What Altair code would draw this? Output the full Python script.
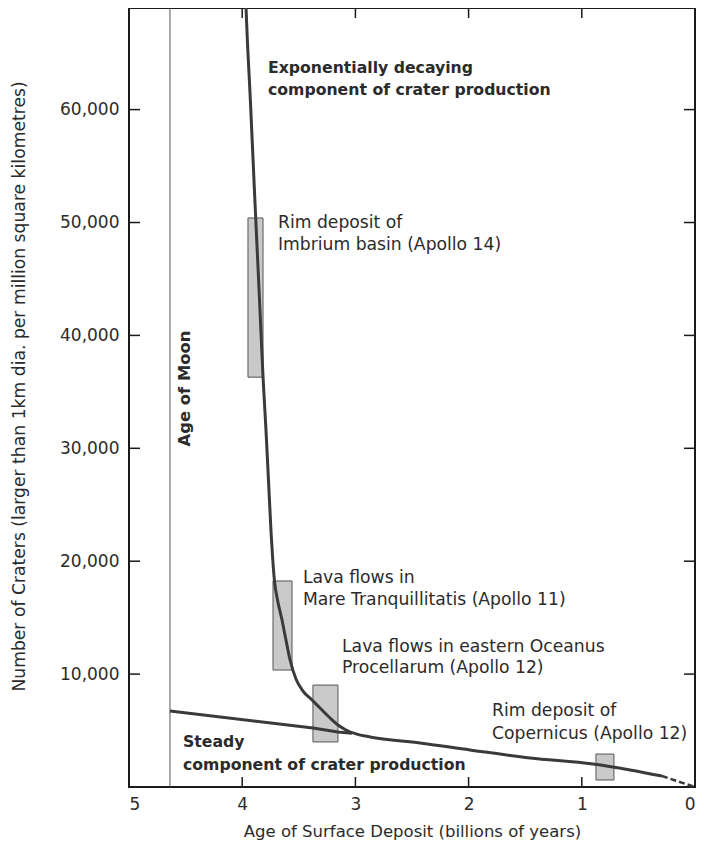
import altair as alt
import pandas as pd

# ---- data ----
decay_age = [3.969, 3.966, 3.928, 3.888, 3.847, 3.816, 3.790, 3.768, 3.746, 3.715, 3.688,
             3.648, 3.622, 3.577, 3.525, 3.463, 3.383, 3.313, 3.233, 3.154, 3.083, 2.995,
             2.871, 2.429, 1.988, 1.458, 0.901, 0.574, 0.292]
decay_val = [70000, 69090, 60850, 51990, 43140, 36320, 31620, 27190, 22760, 18250, 16560,
             14790, 13460, 11250, 9570, 8500, 7710, 7000, 6200, 5490, 5050, 4700,
             4430, 3900, 3280, 2570, 2040, 1510, 970]

steady_age = [4.638, 3.375, 3.154, 3.030]
steady_val = [6730, 5230, 4870, 4760]

dash_age = [0.292, 0.0]
dash_val = [970, 0]

box_name = ["Imbrium", "Tranquillitatis", "Procellarum", "Copernicus"]
box_age_old = [3.949, 3.728, 3.375, 0.875]
box_age_young = [3.816, 3.560, 3.154, 0.716]
box_low = [36300, 10360, 3990, 620]
box_high = [50400, 18250, 9030, 2920]

moon_age = [4.638]

note_text = ["Rim deposit of", "Imbrium basin (Apollo 14)",
             "Lava flows in", "Mare Tranquillitatis (Apollo 11)",
             "Lava flows in eastern Oceanus", "Procellarum (Apollo 12)",
             "Rim deposit of", "Copernicus (Apollo 12)"]
note_age = [3.684, 3.684, 3.463, 3.463, 3.118, 3.118, 1.793, 1.793]
note_val = [49950, 48000, 18500, 16600, 12400, 10500, 6700, 4700]

bold_text = ["Exponentially decaying", "component of crater production",
             "Steady", "component of crater production"]
bold_age = [3.772, 3.772, 4.523, 4.523]
bold_val = [63700, 61700, 3990, 1950]

moon_label = ["Age of Moon"]
moon_label_age = [4.505]
moon_label_val = [35300]

x_ticks = [5, 4, 3, 2, 1, 0]
x_inner_ticks = [4, 3, 2, 1]
y_ticks = [10000, 20000, 30000, 40000, 50000, 60000]

W, H = 566, 779
FONT = "DejaVu Sans"
INK = "#2b2b2b"
LINE = "#3a3a3a"

xs = alt.Scale(domain=[0, 5], reverse=True, nice=False, zero=False)
ys = alt.Scale(domain=[0, 69000], nice=False)

decay_df = pd.DataFrame({"age": decay_age, "val": decay_val})
steady_df = pd.DataFrame({"age": steady_age, "val": steady_val})
dash_df = pd.DataFrame({"age": dash_age, "val": dash_val})
box_df = pd.DataFrame({"name": box_name, "age": box_age_old, "age2": box_age_young,
                       "val": box_low, "val2": box_high})
moon_df = pd.DataFrame({"age": moon_age})
note_df = pd.DataFrame({"age": note_age, "val": note_val, "text": note_text})
bold_df = pd.DataFrame({"age": bold_age, "val": bold_val, "text": bold_text})
moonlab_df = pd.DataFrame({"age": moon_label_age, "val": moon_label_val, "text": moon_label})
xt_df = pd.DataFrame({"age": x_inner_ticks})
yt_df = pd.DataFrame({"val": y_ticks})

x_axis = alt.Axis(values=x_ticks, format="d", title="Age of Surface Deposit (billions of years)",
                  labelPadding=9, titleY=44, titleBaseline="middle")
y_axis = alt.Axis(values=y_ticks, format=",.0f",
                  title="Number of Craters (larger than 1km dia. per million square kilometres)",
                  labelPadding=10, titleX=-110, titleY=378, titleAngle=270,
                  titleAlign="center", titleBaseline="middle", titleFontSize=17.2)

X = alt.X("age:Q", scale=xs, axis=x_axis)
Y = alt.Y("val:Q", scale=ys, axis=y_axis)

boxes = alt.Chart(box_df).mark_rect(fill="#c9c9c9", stroke="#555555", strokeWidth=1).encode(
    x=X, x2="age2:Q", y=Y, y2="val2:Q")

moon = alt.Chart(moon_df).mark_rule(color="#555555", strokeWidth=1).encode(x=X)

decay = alt.Chart(decay_df).mark_line(color=LINE, strokeWidth=3, interpolate="monotone",
                                      clip=True).encode(x=X, y=Y)

steady = alt.Chart(steady_df).mark_line(color=LINE, strokeWidth=3).encode(x=X, y=Y)

dashed = alt.Chart(dash_df).mark_line(color=LINE, strokeWidth=2.5, strokeDash=[6, 3]).encode(
    x=X, y=Y)

notes = alt.Chart(note_df).mark_text(align="left", baseline="middle", font=FONT, fontSize=17.2,
                                      color=INK).encode(x=X, y=Y, text="text:N")

bolds = alt.Chart(bold_df).mark_text(align="left", baseline="middle", font=FONT, fontSize=15.7,
                                      fontWeight="bold", color=INK).encode(x=X, y=Y, text="text:N")

moonlab = alt.Chart(moonlab_df).mark_text(align="center", baseline="middle", font=FONT,
                                           fontSize=16.4, fontWeight="bold", angle=270,
                                           color=INK).encode(x=X, y=Y, text="text:N")

tick_left = alt.Chart(yt_df).mark_rule(color="#1a1a1a", strokeWidth=1.5).encode(
    y=Y, x=alt.value(0), x2=alt.value(11))
tick_right = alt.Chart(yt_df).mark_rule(color="#1a1a1a", strokeWidth=1.5).encode(
    y=Y, x=alt.value(W - 11), x2=alt.value(W))
tick_bottom = alt.Chart(xt_df).mark_rule(color="#1a1a1a", strokeWidth=1.5).encode(
    x=X, y=alt.value(H - 10), y2=alt.value(H))
tick_top = alt.Chart(xt_df).mark_rule(color="#1a1a1a", strokeWidth=1.5).encode(
    x=X, y=alt.value(0), y2=alt.value(10))

chart = alt.layer(
    boxes, moon, decay, steady, dashed, notes, bolds, moonlab,
    tick_left, tick_right, tick_bottom, tick_top
).properties(
    width=W, height=H,
    autosize=alt.AutoSizeParams(type="none"),
    padding={"left": 121, "top": 0, "right": 1, "bottom": 54},
    background="white",
).configure_view(
    stroke="#1a1a1a", strokeWidth=2
).configure_axis(
    domain=False, ticks=False, grid=False,
    labelFont=FONT, labelFontSize=17, labelColor=INK,
    titleFont=FONT, titleFontSize=16.5, titleFontWeight="normal", titleColor=INK,
)

chart.save("out.html", embed_options={"renderer": "svg", "actions": False})
